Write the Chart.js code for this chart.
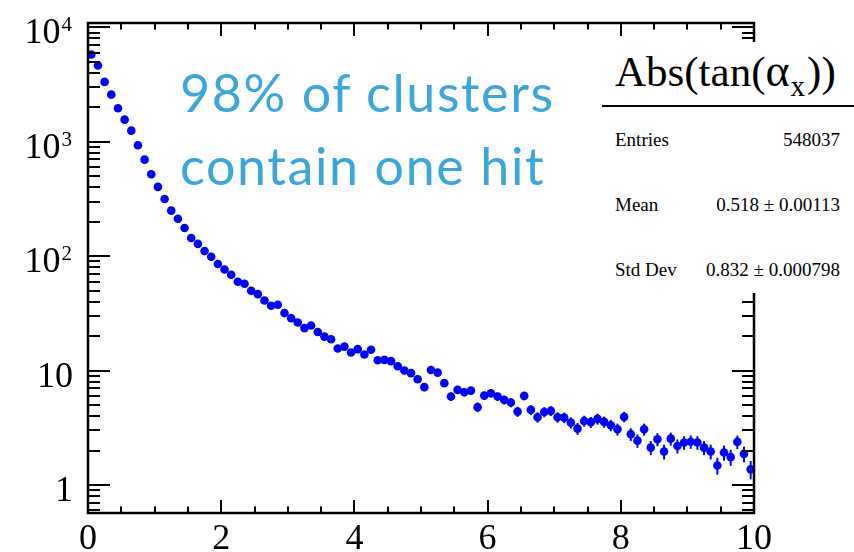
<!DOCTYPE html>
<html>
<head>
<meta charset="utf-8">
<script src="https://cdn.jsdelivr.net/npm/chart.js@4.4.1/dist/chart.umd.min.js"></script>
<style>
  html, body { margin: 0; padding: 0; background: #fff; }
  #wrap { position: relative; width: 854px; height: 552px; overflow: hidden; background: #fff; }
  #plot { position: absolute; left: 0; top: 0; }
  .note { position: absolute; left: 180px; font-family: "Lato", sans-serif; font-size: 52px; line-height: 52px; letter-spacing: 1.6px; color: #3aa6dc; white-space: nowrap; }
  .statbox { position: absolute; left: 602px; top: 42px; width: 252px; height: 251px; background: #fff; }
  .stat { position: absolute; font-family: "Liberation Serif", serif; font-size: 19px; line-height: 19px; color: #000; white-space: nowrap; }
  .title { position: absolute; left: 615px; top: 49px; font-family: "Liberation Serif", serif; font-size: 43px; line-height: 43px; color: #000; white-space: nowrap; }
  .title .greek { font-size: 46px; }
  .title .sub { font-size: 29px; position: relative; top: 10px; margin-left: 1px; margin-right: 2px; }
  .rule { position: absolute; left: 602px; top: 105px; width: 252px; height: 2px; background: #000; }
</style>
</head>
<body>
<div id="wrap">
  <canvas id="plot" width="854" height="552"></canvas>
  <div class="note" style="top:66px">98% of clusters</div>
  <div class="note" style="top:139px">contain one hit</div>
  <div class="statbox"></div>
  <div class="title">Abs(tan(<span class="greek">α</span><span class="sub">x</span>))</div>
  <div class="rule"></div>
  <div class="stat" style="left:615px;top:130px">Entries</div>
  <div class="stat" style="right:14px;top:130px">548037</div>
  <div class="stat" style="left:615px;top:195px">Mean</div>
  <div class="stat" style="right:14px;top:195px">0.518 ± 0.00113</div>
  <div class="stat" style="left:615px;top:260px">Std Dev</div>
  <div class="stat" style="right:14px;top:260px">0.832 ± 0.000798</div>
</div>
<script>
// Histogram binning: 100 bins over [0, 10]
const xLow = 0;
const xHigh = 10;
const binWidth = 0.1;

// Bin contents
const counts = [
  5780, 4630, 3335, 2580, 1960, 1560, 1250, 931, 697, 519,
  403, 316, 250, 212, 176, 144, 128, 111, 98.8, 85.3,
  76.5, 68.8, 59.7, 57.4, 49.8, 46.6, 41.0, 36.8, 37.6, 31.8,
  28.7, 26.3, 23.5, 24.8, 21.7, 19.8, 18.8, 15.6, 16.2, 14.4,
  15.4, 13.8, 15.2, 12.3, 12.4, 12.1, 10.9, 10.0, 9.5, 8.4,
  7.16, 10.1, 9.6, 7.76, 5.93, 6.78, 6.47, 6.68, 4.79, 6.04,
  6.34, 5.93, 5.54, 5.25, 4.38, 6.01, 4.53, 3.91, 4.35, 4.44,
  3.91, 3.88, 3.51, 3.11, 3.63, 3.54, 3.78, 3.56, 3.33, 3.07,
  3.94, 2.78, 2.44, 3.07, 2.12, 2.51, 1.96, 2.54, 2.19, 2.35,
  2.39, 2.35, 2.12, 1.96, 1.48, 1.92, 1.75, 2.38, 1.87, 1.37
];

// Bin errors
const errors = [
  15.9, 14.2, 12.1, 10.6, 9.3, 8.3, 7.4, 6.4, 5.5, 4.8,
  4.2, 3.7, 3.3, 3.0, 2.8, 2.5, 2.4, 2.2, 2.1, 1.9,
  1.8, 1.7, 1.6, 1.6, 1.5, 1.4, 1.3, 1.3, 1.3, 1.2,
  1.1, 1.1, 1.0, 1.0, 0.98, 0.93, 0.91, 0.83, 0.84, 0.79,
  0.82, 0.78, 0.82, 0.73, 0.74, 0.73, 0.69, 0.66, 0.65, 0.61,
  0.56, 0.67, 0.65, 0.58, 0.51, 0.55, 0.53, 0.54, 0.46, 0.51,
  0.53, 0.51, 0.49, 0.48, 0.44, 0.51, 0.45, 0.41, 0.44, 0.44,
  0.41, 0.41, 0.39, 0.37, 0.40, 0.39, 0.41, 0.40, 0.38, 0.37,
  0.42, 0.35, 0.33, 0.37, 0.30, 0.33, 0.29, 0.33, 0.31, 0.32,
  0.32, 0.32, 0.30, 0.29, 0.25, 0.29, 0.28, 0.32, 0.29, 0.25
];

// Axis ranges and tick labels
const yMin = 0.569;
const yMax = 10906;
const xTickValues = [0, 2, 4, 6, 8, 10];
const xTickLabels = ['0', '2', '4', '6', '8', '10'];
const yTickValues = [1, 10, 100, 1000, 10000];
const yTickBase = ['1', '10', '10', '10', '10'];
const yTickExp = ['', '', '2', '3', '4'];

const points = counts.map((c, i) => ({ x: xLow + (i + 0.5) * binWidth, y: c, err: errors[i] }));

const MARKER = '#0000ff';
const LABEL_FONT = '"Liberation Serif", serif';

// Vertical error bars, drawn under the markers
const errorBars = {
  id: 'errorBars',
  beforeDatasetsDraw(chart) {
    const { ctx } = chart;
    const xs = chart.scales.x, ys = chart.scales.y;
    ctx.save();
    ctx.strokeStyle = MARKER;
    ctx.lineWidth = 2;
    points.forEach(p => {
      const px = xs.getPixelForValue(p.x);
      const lo = Math.max(p.y - p.err, yMin);
      const y1 = ys.getPixelForValue(lo);
      const y2 = ys.getPixelForValue(p.y + p.err);
      ctx.beginPath();
      ctx.moveTo(px, y1);
      ctx.lineTo(px, y2);
      ctx.stroke();
    });
    ctx.restore();
  }
};

// Frame with inward ticks on all four sides, plus tick labels
const frameAxes = {
  id: 'frameAxes',
  afterDatasetsDraw(chart) {
    const { ctx, chartArea: a } = chart;
    const xs = chart.scales.x, ys = chart.scales.y;
    ctx.save();
    ctx.strokeStyle = '#000';
    ctx.lineWidth = 2;
    ctx.lineCap = 'butt';

    // x ticks: major every 2, minor every 0.5
    for (let k = 0; k <= 20; k++) {
      const v = xLow + k * 0.5;
      const px = Math.round(xs.getPixelForValue(v));
      const len = (k % 4 === 0) ? 13 : 6.5;
      ctx.beginPath();
      ctx.moveTo(px, a.bottom); ctx.lineTo(px, a.bottom - len);
      ctx.moveTo(px, a.top); ctx.lineTo(px, a.top + len);
      ctx.stroke();
    }

    // y ticks: decades major, k*10^n minor
    for (let e = -1; e <= 4; e++) {
      for (let m = 1; m <= 9; m++) {
        const v = m * Math.pow(10, e);
        if (v < yMin || v > yMax) continue;
        const py = Math.round(ys.getPixelForValue(v));
        const len = (m === 1) ? 22 : 12;
        ctx.beginPath();
        ctx.moveTo(a.left, py); ctx.lineTo(a.left + len, py);
        ctx.moveTo(a.right, py); ctx.lineTo(a.right - len, py);
        ctx.stroke();
      }
    }

    // frame
    ctx.lineWidth = 2.5;
    ctx.strokeRect(a.left, a.top, a.right - a.left, a.bottom - a.top);

    // x tick labels
    ctx.fillStyle = '#000';
    ctx.font = '36px ' + LABEL_FONT;
    ctx.textAlign = 'center';
    ctx.textBaseline = 'alphabetic';
    xTickValues.forEach((v, i) => {
      ctx.fillText(xTickLabels[i], xs.getPixelForValue(v), 549);
    });

    // y tick labels with superscript exponents
    const rightEdge = 72;
    yTickValues.forEach((v, i) => {
      const py = ys.getPixelForValue(v);
      ctx.textAlign = 'right';
      if (yTickExp[i]) {
        ctx.font = '21px ' + LABEL_FONT;
        const w = ctx.measureText(yTickExp[i]).width;
        ctx.fillText(yTickExp[i], rightEdge, py + 4);
        ctx.font = '36px ' + LABEL_FONT;
        ctx.fillText(yTickBase[i], rightEdge - w - 1, py + 16);
      } else {
        ctx.font = '36px ' + LABEL_FONT;
        ctx.fillText(yTickBase[i], rightEdge + 1, py + 16);
      }
    });
    ctx.restore();
  }
};

new Chart(document.getElementById('plot'), {
  type: 'scatter',
  data: {
    datasets: [{
      data: points,
      parsing: { xAxisKey: 'x', yAxisKey: 'y' },
      backgroundColor: MARKER,
      borderWidth: 0,
      pointRadius: 4.3,
      pointHoverRadius: 4.3,
      showLine: false,
      clip: false
    }]
  },
  options: {
    responsive: false,
    animation: false,
    events: [],
    layout: { padding: { left: 88, right: 100, top: 23, bottom: 39 } },
    plugins: { legend: { display: false }, tooltip: { enabled: false } },
    scales: {
      x: { type: 'linear', display: false, min: xLow, max: xHigh },
      y: { type: 'logarithmic', display: false, min: yMin, max: yMax }
    }
  },
  plugins: [errorBars, frameAxes]
});
</script>
</body>
</html>
